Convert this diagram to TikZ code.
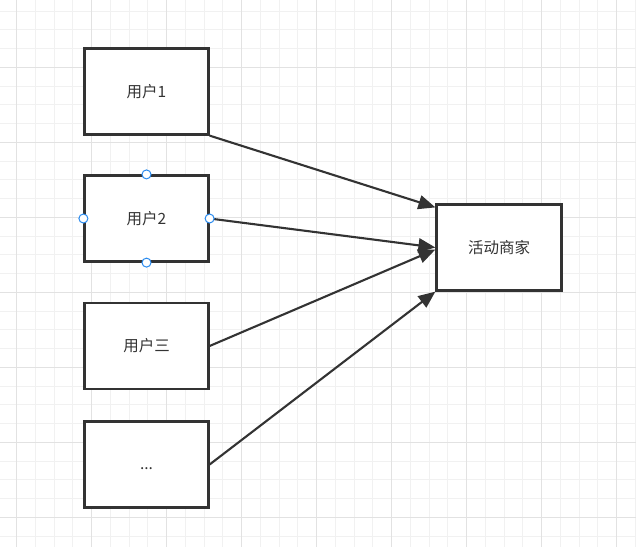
\documentclass[tikz,border=0pt]{standalone}
\usepackage{fontspec}
\newfontfamily\cjk{Noto Sans CJK SC}
\usetikzlibrary{arrows.meta}
\definecolor{ink}{HTML}{333333}
\definecolor{gridminor}{HTML}{F1F1F1}
\definecolor{gridmajor}{HTML}{E2E2E2}
\definecolor{handlecol}{HTML}{2A8BEF}
\begin{document}
\begin{tikzpicture}[x=1pt,y=-1pt,
  box/.style={draw=ink, line width=2.2pt, fill=white, minimum width=124pt, minimum height=86pt, inner sep=0pt, font=\cjk\fontsize{15.5}{18}\selectfont, text=ink},
  link/.style={draw=ink, line width=2.1pt, -{Triangle[length=17pt,width=14pt]}},
  handle/.style={circle, draw=handlecol, fill=white, line width=1pt, minimum size=9pt, inner sep=0pt}]
\useasboundingbox (0,0) rectangle (636,547);
\fill[white] (0,0) rectangle (636,547);
% grid
\foreach \i in {-1,...,34} {
  \pgfmathsetmacro\gx{16.7+18.75*\i}
  \draw[gridminor, line width=1pt] (\gx,0) -- (\gx,547);
}
\foreach \i in {0,...,29} {
  \pgfmathsetmacro\gy{-7.7+18.75*\i}
  \draw[gridminor, line width=1pt] (0,\gy) -- (636,\gy);
}
\foreach \i in {0,...,8} {
  \pgfmathsetmacro\gx{16.7+75*\i}
  \draw[gridmajor, line width=1pt] (\gx,0) -- (\gx,547);
}
\foreach \i in {1,...,7} {
  \pgfmathsetmacro\gy{-7.7+75*\i}
  \draw[gridmajor, line width=1pt] (0,\gy) -- (636,\gy);
}
% nodes
\node[box] (u1) at (146.5,91.5) {用户1};
\node[box] (u2) at (146.5,218.5) {用户2};
\node[box] (u3) at (146.5,346) {用户三};
\node[box, text height=10pt, text depth=0pt] (u4) at (146.5,464.5) {...};
\node[box, minimum width=125pt] (shop) at (499,247.5) {活动商家};
% connectors
\draw[link] (u1.south east) -- ([yshift=-4pt]shop.north west);
\draw[link] (u2.east) -- (shop.west);
\draw[link] (u3.east) -- ([yshift=-2pt]shop.west);
\draw[link] (u4.east) -- (shop.south west);
% selection handles
\node[handle] (h1) at (u2.north) {};
\node[handle] (h2) at (u2.south) {};
\node[handle] (h3) at (u2.east) {};
\node[handle] (h4) at (u2.west) {};
\end{tikzpicture}
\end{document}
